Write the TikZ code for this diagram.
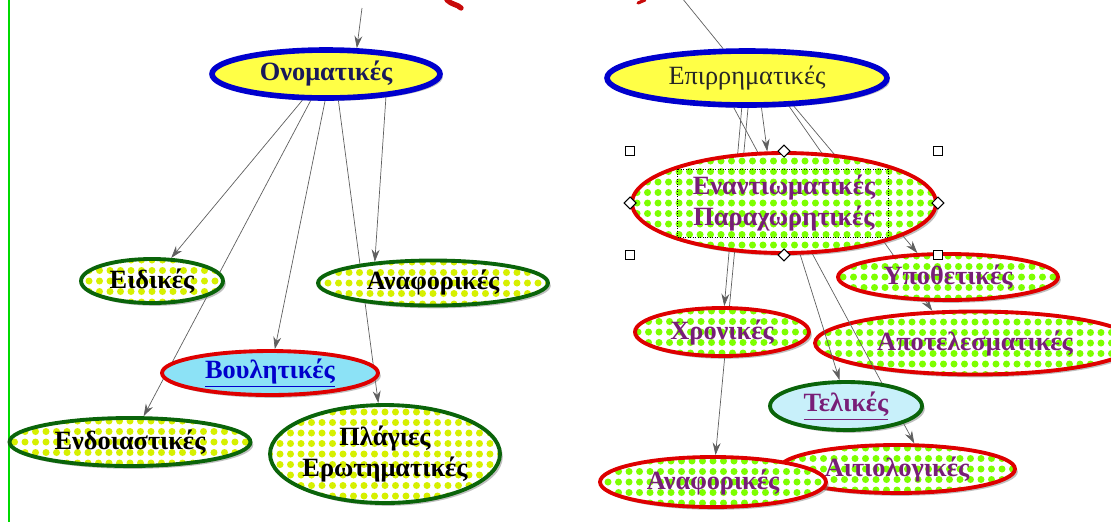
\documentclass[tikz,border=0pt]{standalone}
\usepackage{fontspec}
\setmainfont{Liberation Serif}
\usetikzlibrary{shapes.geometric,arrows.meta,shadows,backgrounds}

\definecolor{mapblue}{RGB}{0,0,205}
\definecolor{mapyellow}{RGB}{255,255,70}
\definecolor{mapred}{RGB}{222,0,0}
\definecolor{mapgreen}{RGB}{10,100,10}
\definecolor{dotgreen}{RGB}{125,255,0}
\definecolor{dotlime}{RGB}{214,240,0}
\definecolor{mappurple}{RGB}{120,30,120}
\definecolor{mapnavy}{RGB}{25,25,90}
\definecolor{linkgray}{RGB}{95,95,95}
\definecolor{boulcyan}{RGB}{140,226,246}
\definecolor{telcyan}{RGB}{200,240,250}
\definecolor{titlered}{RGB}{200,10,10}

\begin{document}
\begin{tikzpicture}[x=0.02cm,y=-0.02cm,>={Stealth[length=7pt,width=4.5pt]},
			every node/.style={font=\fontsize{15}{18}\selectfont\bfseries},
			concept/.style={ellipse,inner sep=0pt,fill=white,align=center,
				drop shadow={shadow xshift=1.6pt,shadow yshift=-1.6pt,opacity=.5}},
			dotfill/.style={path picture={
				\foreach \i in {-16,...,16}
					\foreach \j in {-5,...,5}
						\fill[#1] ([xshift=\i*0.21cm,yshift=\j*0.21cm]path picture bounding box.center) circle[radius=0.07cm];}},
			main state/.style={concept,draw=mapblue,line width=3.2pt,fill=mapyellow},
			green state/.style={concept,draw=mapgreen,line width=2.2pt,dotfill=dotlime},
			red state/.style={concept,draw=mapred,line width=2.2pt,dotfill=dotgreen,text=mappurple},
			link/.style={->,draw=linkgray,thin},
			handle/.style={draw,fill=white,inner sep=0pt,minimum size=5pt,line width=0.6pt},
			handle diamond/.style={handle,diamond,minimum size=7pt}
			]

		\useasboundingbox (0,0) rectangle (1111,522);
		\draw[green!85!black,line width=0.8pt] (9,0) -- (9,522);
		\draw[titlered,line width=3pt,line cap=round] (447,0) .. controls (452,5) and (457,4) .. (461,8);
		\draw[titlered,line width=1.8pt,line cap=round] (638,3) -- (645,0);

		\coordinate (topL) at (362,8);
		\coordinate (topR) at (682,-2);

		\node [main state, text=mapnavy, minimum width=4.56cm, minimum height=0.96cm] (onom) at (326,74) {Ονοματικές};
		\node [main state, text=black!85, font=\fontsize{15}{18}\selectfont, minimum width=5.6cm, minimum height=1.08cm] (epir) at (747,78) {Επιρρηματικές};
		\node [red state, minimum width=6.08cm, minimum height=2cm] (enant) at (784,203) {Εναντιωματικές\\Παραχωρητικές};

		\node [green state, minimum width=2.84cm, minimum height=0.88cm] (eid) at (152,281) {Ειδικές};
		\node [green state, minimum width=4.6cm, minimum height=0.9cm] (anaL) at (433,283) {Αναφορικές};
		\node [concept, draw=mapred, line width=2.2pt, fill=boulcyan, text=blue!80!black,
			minimum width=4.32cm, minimum height=0.88cm] (boul) at (270,373) {\underline{Βουλητικές}};
		\node [green state, minimum width=4.82cm, minimum height=0.96cm] (endo) at (130,442) {Ενδοιαστικές};
		\node [green state, inner xsep=-6pt, minimum width=4.6cm, minimum height=1.96cm] (plag) at (385,454) {Πλάγιες\\Ερωτηματικές};

		\node [red state, minimum width=4.4cm, minimum height=0.92cm] (ypoth) at (948,277) {Υποθετικές};
		\node [red state, minimum width=3.48cm, minimum height=0.96cm] (chron) at (722,332) {Χρονικές};
		\node [concept, draw=mapgreen, line width=2.2pt, fill=telcyan, text=mappurple,
			minimum width=3.04cm, minimum height=0.96cm] (telik) at (846,406) {\underline{Τελικές}};
		\node [red state, minimum width=4.72cm, minimum height=0.96cm] (aitio) at (897,469) {Αιτιολογικές};
		\node [red state, minimum width=4.52cm, minimum height=1cm] (anaR) at (713,482) {Αναφορικές};

		% selection marks
		\node [handle] at (enant.north -| enant.west) {};
		\node [handle] at (enant.north -| enant.east) {};
		\node [handle] at (enant.south -| enant.west) {};
		\node [handle] at (enant.south -| enant.east) {};
		\node [handle diamond] at (enant.north) {};
		\node [handle diamond] at (enant.south) {};
		\node [handle diamond] at (enant.west) {};
		\node [handle diamond] at (enant.east) {};
		\draw [densely dotted, thin] ([xshift=-2.14cm,yshift=0.68cm]enant.center)
			rectangle ([xshift=2.08cm,yshift=-0.68cm]enant.center);

		\begin{scope}[on background layer]
			\node [red state, minimum width=6.4cm, minimum height=1.26cm] (apot) at (975,343) {Αποτελεσματικές};

			\draw [link] (topL) -- (onom.40);
			\draw [link] (onom.228) -- (eid);
			\draw [link] (onom.240) -- (endo);
			\draw [link] (onom.268) -- (boul);
			\draw [link] (onom.295) -- (plag);
			\draw [link] (onom.339) -- (anaL.160);

			\draw [draw=linkgray, thin] (topR) -- (epir);
			\draw [link] (epir.296) -- (enant.108);
			\draw [link] (epir.260) -- (chron);
			\draw [link] (epir.272) -- (anaR);
			\draw [link] (epir.246) -- (aitio.56);
			\draw [link] (enant) -- (telik.104);
			\draw [link] (epir.329) -- (ypoth.142);
			\draw [link] (epir.326) -- (apot.143);
		\end{scope}

		\end{tikzpicture}
\end{document}
